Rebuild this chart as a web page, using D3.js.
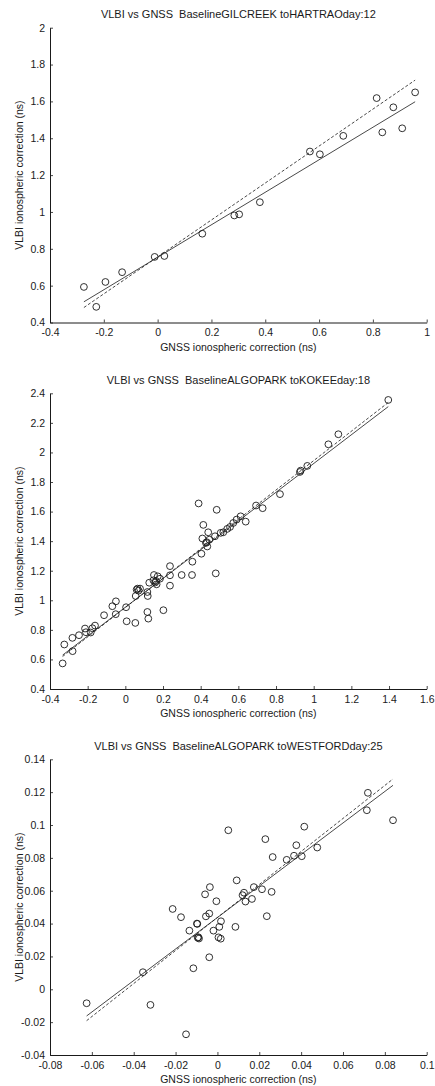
<!DOCTYPE html>
<html>
<head>
<meta charset="utf-8">
<script src="https://cdn.jsdelivr.net/npm/d3@7"></script>
<style>
  html, body { margin: 0; padding: 0; background: #fff; }
  svg { display: block; font-family: "Liberation Sans", Arial, Helvetica, sans-serif; }
</style>
</head>
<body>
<svg id="chart" width="435" height="1086"></svg>
<script>
// ---------- data ----------
const titles = [
  "VLBI vs GNSS  BaselineGILCREEK toHARTRAOday:12",
  "VLBI vs GNSS  BaselineALGOPARK toKOKEEday:18",
  "VLBI vs GNSS  BaselineALGOPARK toWESTFORDday:25"
];
const xLabel = "GNSS ionospheric correction (ns)";
const yLabel = "VLBI ionospheric correction (ns)";

// panel 1: GILCREEK - HARTRAO, day 12
const gnss1 = [-0.274,-0.228,-0.194,-0.132,-0.011,0.025,0.166,0.285,0.303,0.380,0.566,0.603,0.690,0.814,0.835,0.876,0.909,0.957];
const vlbi1 = [0.593,0.485,0.620,0.673,0.756,0.761,0.882,0.981,0.987,1.053,1.328,1.313,1.413,1.618,1.432,1.568,1.454,1.649];
const fitSolid1 = [0.882, 0.754];   // slope, intercept
const fitDashed1 = [1.0025, 0.756];
const xTicks1 = [-0.4,-0.2,0,0.2,0.4,0.6,0.8,1];
const xTickLabels1 = ["-0.4","-0.2","0","0.2","0.4","0.6","0.8","1"];
const yTicks1 = [0.4,0.6,0.8,1,1.2,1.4,1.6,1.8,2];
const yTickLabels1 = ["0.4","0.6","0.8","1","1.2","1.4","1.6","1.8","2"];

// panel 2: ALGOPARK - KOKEE, day 18
const gnss2 = [-0.333,-0.324,-0.281,-0.280,-0.246,-0.214,-0.209,-0.184,-0.175,-0.161,-0.113,-0.069,-0.050,-0.051,0.004,0.007,0.053,0.055,0.060,0.065,0.078,0.070,0.117,0.119,0.117,0.122,0.127,0.149,0.152,0.163,0.166,0.172,0.184,0.158,0.202,0.237,0.237,0.237,0.299,0.356,0.354,0.404,0.435,0.432,0.480,
  0.389,0.485,0.414,0.440,0.409,0.428,0.446,0.476,0.506,0.520,0.541,0.556,0.573,0.591,0.612,0.639,0.694,0.729,0.821,0.927,0.931,0.966,1.078,1.131,1.396];
const vlbi2 = [0.573,0.701,0.746,0.656,0.764,0.809,0.784,0.782,0.811,0.829,0.899,0.960,0.993,0.906,0.953,0.858,0.847,1.029,1.072,1.079,1.079,1.065,1.056,1.029,0.921,0.876,1.119,1.135,1.171,1.130,1.108,1.162,1.146,1.120,0.933,1.231,1.169,1.099,1.171,1.261,1.171,1.315,1.364,1.393,1.182,
  1.655,1.612,1.510,1.460,1.418,1.388,1.410,1.433,1.456,1.460,1.483,1.496,1.523,1.546,1.568,1.532,1.641,1.623,1.718,1.868,1.877,1.909,2.055,2.123,2.355];
const fitSolid2 = [0.972, 0.953];
const fitDashed2 = [0.9936, 0.951];
const xTicks2 = [-0.4,-0.2,0,0.2,0.4,0.6,0.8,1,1.2,1.4,1.6];
const xTickLabels2 = ["-0.4","-0.2","0","0.2","0.4","0.6","0.8","1","1.2","1.4","1.6"];
const yTicks2 = [0.4,0.6,0.8,1,1.2,1.4,1.6,1.8,2,2.2,2.4];
const yTickLabels2 = ["0.4","0.6","0.8","1","1.2","1.4","1.6","1.8","2","2.2","2.4"];

// panel 3: ALGOPARK - WESTFORD, day 25
const gnss3 = [-0.0625,-0.0356,-0.032,-0.015,-0.0214,-0.0174,-0.0134,-0.0115,-0.0098,-0.0096,-0.0094,-0.0091,-0.0088,-0.0055,-0.0039,-0.0039,-0.0019,-0.0005,0.0009,0.0005,0.0016,0.0017,0.0086,0.0236,
  -0.0059,-0.0036,0.0052,0.0092,0.0120,0.0127,0.0134,0.0165,0.0174,0.0213,0.0259,0.0229,0.0264,0.0331,0.0366,0.0403,0.0377,0.0415,0.0477,0.0714,0.0719,0.0839];
const vlbi3 = [-0.0085,0.0104,-0.0095,-0.0274,0.0489,0.0439,0.0357,0.0128,0.0400,0.0398,0.0314,0.0317,0.0309,0.0444,0.0461,0.0195,0.0357,0.0536,0.0380,0.0316,0.0308,0.0414,0.0380,0.0445,
  0.0578,0.0622,0.0968,0.0663,0.0573,0.0588,0.0534,0.0550,0.0622,0.0609,0.0593,0.0914,0.0805,0.0788,0.0813,0.0810,0.0877,0.0990,0.0863,0.1090,0.1196,0.1029];
const fitSolid3 = [0.959, 0.0437];
const fitDashed3 = [1.005, 0.0437];
const xTicks3 = [-0.08,-0.06,-0.04,-0.02,0,0.02,0.04,0.06,0.08,0.1];
const xTickLabels3 = ["-0.08","-0.06","-0.04","-0.02","0","0.02","0.04","0.06","0.08","0.1"];
const yTicks3 = [-0.04,-0.02,0,0.02,0.04,0.06,0.08,0.1,0.12,0.14];
const yTickLabels3 = ["-0.04","-0.02","0","0.02","0.04","0.06","0.08","0.1","0.12","0.14"];

// ---------- layout ----------
const panels = [
  {title: titles[0], xs: gnss1, ys: vlbi1, solid: fitSolid1, dashed: fitDashed1,
   xt: xTicks1, xtl: xTickLabels1, yt: yTicks1, ytl: yTickLabels1, top: 27.7, bottom: 322.5},
  {title: titles[1], xs: gnss2, ys: vlbi2, solid: fitSolid2, dashed: fitDashed2,
   xt: xTicks2, xtl: xTickLabels2, yt: yTicks2, ytl: yTickLabels2, top: 393.3, bottom: 689},
  {title: titles[2], xs: gnss3, ys: vlbi3, solid: fitSolid3, dashed: fitDashed3,
   xt: xTicks3, xtl: xTickLabels3, yt: yTicks3, ytl: yTickLabels3, top: 759.3, bottom: 1055}
];
const left = 50, right = 426.7;
const ink = "#1a1a1a";

const svg = d3.select("#chart");
svg.append("rect").attr("width", 435).attr("height", 1086).attr("fill", "#fff");

panels.forEach(p => {
  const x = d3.scaleLinear().domain(d3.extent(p.xt)).range([left, right]);
  const y = d3.scaleLinear().domain(d3.extent(p.yt)).range([p.bottom, p.top]);
  const g = svg.append("g");

  // axes
  const xAxis = d3.axisBottom(x).tickValues(p.xt)
    .tickFormat((d, i) => p.xtl[i]).tickSizeInner(-3).tickSizeOuter(0).tickPadding(6);
  const yAxis = d3.axisLeft(y).tickValues(p.yt)
    .tickFormat((d, i) => p.ytl[i]).tickSizeInner(-3).tickSizeOuter(0).tickPadding(5);

  const gx = g.append("g").attr("transform", `translate(0,${p.bottom})`).call(xAxis);
  const gy = g.append("g").attr("transform", `translate(${left},0)`).call(yAxis);
  [gx, gy].forEach(a => {
    a.select(".domain").attr("stroke", ink).attr("stroke-width", 1);
    a.selectAll(".tick line").attr("stroke", ink).attr("stroke-width", 0.8);
    a.selectAll(".tick text").attr("fill", ink).attr("font-size", 10.5)
      .attr("font-family", "'Liberation Sans', Arial, sans-serif");
  });
  gx.selectAll(".tick text").attr("dy", "0.75em");

  // title (preserve the double space)
  g.append("text").attr("x", (left + right) / 2).attr("y", p.top - 12.5)
    .attr("text-anchor", "middle").attr("dominant-baseline", "middle")
    .style("white-space", "pre").attr("xml:space", "preserve")
    .attr("font-size", 11).attr("fill", ink).text(p.title);

  // x label
  g.append("text").attr("x", (left + right) / 2).attr("y", p.bottom + 25.5)
    .attr("text-anchor", "middle").attr("dominant-baseline", "middle")
    .attr("font-size", 10.5).attr("fill", ink).text(xLabel);

  // y label
  g.append("text")
    .attr("transform", `translate(20,${(p.top + p.bottom) / 2}) rotate(-90)`)
    .attr("text-anchor", "middle").attr("dominant-baseline", "middle")
    .attr("font-size", 10.5).attr("fill", ink).text(yLabel);

  // fit lines over data x-extent
  const ext = d3.extent(p.xs);
  const line = d3.line().x(d => x(d[0])).y(d => y(d[1]));
  const pts = f => ext.map(v => [v, f[0] * v + f[1]]);
  g.append("path").datum(pts(p.dashed)).attr("d", line)
    .attr("fill", "none").attr("stroke", ink).attr("stroke-width", 0.8)
    .attr("stroke-dasharray", "3,2");
  g.append("path").datum(pts(p.solid)).attr("d", line)
    .attr("fill", "none").attr("stroke", ink).attr("stroke-width", 0.8);

  // points
  g.append("g").selectAll("circle").data(p.xs.map((v, i) => [v, p.ys[i]])).join("circle")
    .attr("cx", d => x(d[0])).attr("cy", d => y(d[1])).attr("r", 3.4)
    .attr("fill", "none").attr("stroke", ink).attr("stroke-width", 0.9);
});
</script>
</body>
</html>
